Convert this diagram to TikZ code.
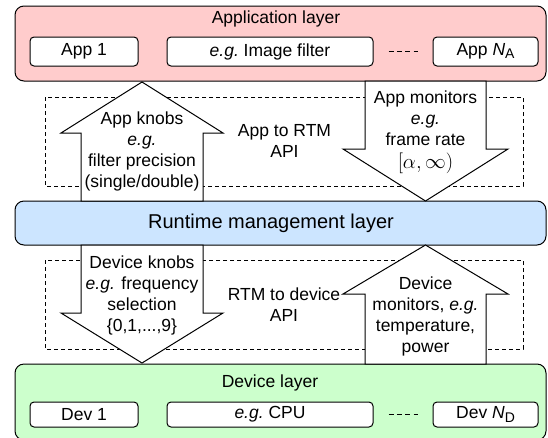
\documentclass[tikz,border=0pt]{standalone}
\usepackage{fontspec}
\setmainfont{Liberation Sans}
\definecolor{apppink}{RGB}{255,204,204}
\definecolor{rtmblue}{RGB}{204,229,255}
\definecolor{devgreen}{RGB}{204,255,204}
\newcommand{\mysubs}[1]{\raisebox{-0.35ex}{\fontsize{14}{14}\selectfont #1}}
\begin{document}
\begin{tikzpicture}[x=1pt,y=-1pt,
  layerbox/.style={draw=black, line width=1pt, rounded corners=9pt},
  unitbox/.style={draw=black, fill=white, line width=1pt, rounded corners=4pt, inner sep=0pt,
    font=\fontsize{17.5}{21}\selectfont},
  apibox/.style={draw=black, line width=0.9pt, dash pattern=on 4pt off 3pt},
  dotsline/.style={draw=black, line width=0.9pt, dash pattern=on 5pt off 3.4pt, shorten >=15pt, shorten <=15pt},
  blockarrow/.style={draw=black, fill=white, line width=1pt, line join=miter},
  lbl/.style={font=\fontsize{17.5}{21}\selectfont, align=center, inner sep=0pt},
  biglbl/.style={font=\fontsize{20}{24}\selectfont, align=center, inner sep=0pt}]
\useasboundingbox (0,0) rectangle (548,437);
% layers
\draw[layerbox, fill=apppink] (15,6) rectangle (546,81);
\draw[layerbox, fill=rtmblue] (15,201) rectangle (546,245);
\draw[layerbox, fill=devgreen] (15,364) rectangle (546,440);
% dashed API boxes
\draw[apibox] (45,97) rectangle (523,186);
\draw[apibox] (45,260) rectangle (523,349);
% block arrows
\draw[blockarrow] (81,201) -- (81,133) -- (61,133) -- (142,82) -- (223,133) -- (203,133) -- (203,201) -- cycle;
\draw[blockarrow] (365,81) -- (365,149) -- (343,149) -- (425.5,201) -- (508,149) -- (486,149) -- (486,81) -- cycle;
\draw[blockarrow] (81,245) -- (81,313) -- (61,313) -- (142,363) -- (223,313) -- (203,313) -- (203,245) -- cycle;
\draw[blockarrow] (365,364) -- (365,294) -- (343,294) -- (425.5,245) -- (508,294) -- (486,294) -- (486,364) -- cycle;
% layer titles
\node[lbl] (applayer) at (276,19) {Application layer};
\node[biglbl] (rtmlayer) at (271,223) {Runtime management layer};
\node[lbl] (devlayer) at (270,383) {Device layer};
% app units
\node[unitbox, minimum width=108pt, minimum height=29pt] (app1) at (84,51.5) {App 1};
\node[unitbox, minimum width=206pt, minimum height=29pt] (appfilter) at (270,51.5) {\textit{e.g.}\ Image filter};
\node[unitbox, minimum width=105pt, minimum height=29pt] (appN) at (485.5,51.5) {App \textit{N}\mysubs{A}};
\draw[dotsline] (appfilter) -- (appN);
% device units
\node[unitbox, minimum width=108pt, minimum height=25pt] (dev1) at (84,414.5) {Dev 1};
\node[unitbox, minimum width=206pt, minimum height=25pt] (devcpu) at (270,414.5) {\textit{e.g.}\ CPU};
\node[unitbox, minimum width=105pt, minimum height=25pt] (devN) at (485.5,414.5) {Dev \textit{N}\mysubs{D}};
\draw[dotsline] (devcpu) -- (devN);
% arrow texts
\node[lbl] (appknobs) at (142,151.5) {App knobs\\\textit{e.g.}\\filter precision\\(single/double)};
\node[lbl] (apprtm) at (284.5,141) {App to RTM\\API};
\node[lbl] (appmon) at (425.5,132) {App monitors\\\textit{e.g.}\\frame rate\\[2pt]{\fontsize{20}{20}\selectfont$[\alpha,\infty)$}};
\node[lbl] (devknobs) at (142,295) {Device knobs\\\textit{e.g.} frequency\\selection\\\{0,1,...,9\}};
\node[lbl] (rtmdev) at (284,304.5) {RTM to device\\API};
\node[lbl] (devmon) at (425.5,316) {Device\\monitors, \textit{e.g.}\\temperature,\\power};
\end{tikzpicture}
\end{document}
